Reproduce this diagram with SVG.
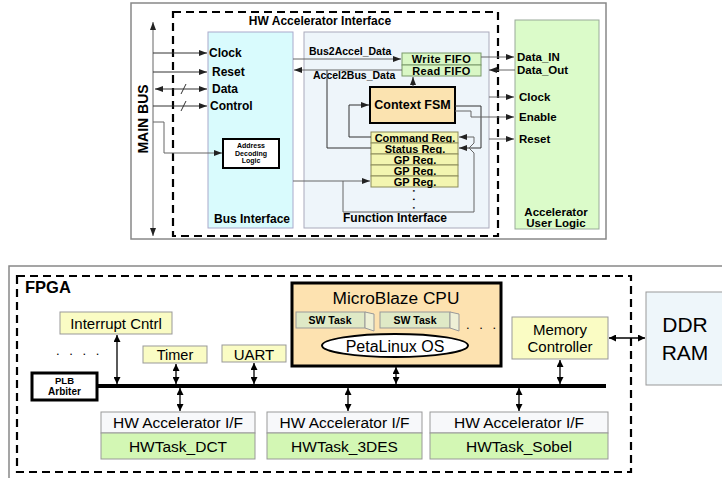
<svg xmlns="http://www.w3.org/2000/svg" width="722" height="478" viewBox="0 0 722 478">
<defs>
<marker id="a" viewBox="0 0 8 6" refX="8" refY="3" markerWidth="8" markerHeight="6" markerUnits="userSpaceOnUse" orient="auto-start-reverse"><path d="M0,0 L8,3 L0,6 z" fill="#222"/></marker>
<marker id="b" viewBox="0 0 7 7" refX="7" refY="3.5" markerWidth="7" markerHeight="7" markerUnits="userSpaceOnUse" orient="auto-start-reverse"><path d="M0,0 L7,3.5 L0,7 z" fill="#000"/></marker>
<style>
text{font-family:"Liberation Sans",Arial,sans-serif;fill:#000}
.b{font-weight:bold}
.c{text-anchor:middle}
.ln{fill:none;stroke:#333;stroke-width:1}
.lg{fill:none;stroke:#666;stroke-width:1}
.ar{marker-end:url(#a)}
.ar2{marker-start:url(#a);marker-end:url(#a)}
.bl{fill:none;stroke:#000;stroke-width:1.3;marker-start:url(#b);marker-end:url(#b)}
.frame{fill:#fff;stroke:#888;stroke-width:1.5}
.dash{fill:none;stroke:#000;stroke-width:2.2;stroke-dasharray:8 5}
.reg{fill:#f3f5b0;stroke:#8c8c5a;stroke-width:1}
.fifo{fill:#d9f7c5;stroke:#7a9a6a;stroke-width:1}
.yel{fill:#fafcc4;stroke:#999;stroke-width:1}
.hwt{fill:#f7f8fa;stroke:#999;stroke-width:1}
.hwb{fill:#d3f7b4;stroke:#999;stroke-width:1}
</style>
</defs>

<!-- ===== TOP DIAGRAM ===== -->
<rect class="frame" x="131" y="3" width="475" height="236"/>
<rect id="hwai" class="dash" x="173" y="12" width="325" height="224"/>
<text class="b c" x="320" y="25" font-size="12">HW Accelerator Interface</text>

<g id="main-bus">
<text class="b c" font-size="14" transform="translate(148,119) rotate(-90)">MAIN BUS</text>
</g>

<g id="bus-interface">
<rect x="208" y="32" width="85" height="196" fill="#d9fbfd" stroke="#aac" stroke-width="1"/>
<text class="b c" x="252" y="223" font-size="12">Bus Interface</text>
</g>

<g id="function-interface">
<rect x="304" y="32" width="185" height="196" fill="#eef5fa" stroke="#aab" stroke-width="1"/>
<text class="b c" x="395" y="222" font-size="12">Function Interface</text>
</g>

<g id="user-logic">
<rect x="515" y="20" width="84" height="209" fill="#dbfbc9" stroke="#9a9" stroke-width="1"/>
<text class="b c" x="556" y="216" font-size="11.5">Accelerator</text>
<text class="b c" x="556" y="227" font-size="11.5">User Logic</text>
</g>

<g id="addr-decoding">
<rect x="223" y="139" width="56" height="29" fill="#fff" stroke="#000" stroke-width="2"/>
<text class="b c" x="251" y="148" font-size="7">Address</text>
<text class="b c" x="251" y="155.5" font-size="7">Decoding</text>
<text class="b c" x="251" y="163" font-size="7">Logic</text>
</g>

<g id="write-fifo">
<rect class="fifo" x="402" y="53" width="79" height="12"/>
<text class="b c" x="441.5" y="62.8" font-size="11" letter-spacing="0.4">Write FIFO</text>
</g>
<g id="read-fifo">
<rect class="fifo" x="402" y="65" width="79" height="11"/>
<text class="b c" x="441.5" y="74.8" font-size="11" letter-spacing="0.4">Read FIFO</text>
</g>

<g id="context-fsm">
<rect x="370" y="87" width="85" height="36" fill="#fbe3b0" stroke="#000" stroke-width="2"/>
<text class="b c" x="412.5" y="109" font-size="12.5">Context FSM</text>
</g>

<g id="registers">
<rect class="reg" x="371" y="132" width="87" height="11"/>
<text class="b c" x="415" y="141.5" font-size="11">Command Reg.</text>
<rect class="reg" x="371" y="143" width="87" height="11"/>
<text class="b c" x="415" y="152.5" font-size="11">Status Reg.</text>
<rect class="reg" x="371" y="154" width="87" height="11"/>
<text class="b c" x="415" y="163.5" font-size="11">GP Reg.</text>
<rect class="reg" x="371" y="165" width="87" height="11"/>
<text class="b c" x="415" y="174.5" font-size="11">GP Reg.</text>
<rect class="reg" x="371" y="176" width="87" height="11"/>
<text class="b c" x="415" y="185.5" font-size="11">GP Reg.</text>
<text class="b" font-size="10" letter-spacing="1.5" transform="translate(413,189.5) rotate(90)">. . .</text>
</g>

<g id="top-labels">
<text class="b" x="209" y="57" font-size="12">Clock</text>
<text class="b" x="212" y="76" font-size="12">Reset</text>
<text class="b" x="212" y="93" font-size="12">Data</text>
<text class="b" x="210" y="110" font-size="12">Control</text>
<text class="b" x="309" y="55" font-size="10.5">Bus2Accel_Data</text>
<text class="b" x="313" y="79" font-size="10.5">Accel2Bus_Data</text>
<text class="b" x="517" y="61" font-size="11.5">Data_IN</text>
<text class="b" x="517" y="74" font-size="11.5">Data_Out</text>
<text class="b" x="519" y="101" font-size="11.5">Clock</text>
<text class="b" x="519" y="121" font-size="11.5">Enable</text>
<text class="b" x="519" y="143" font-size="11.5">Reset</text>
</g>

<g id="top-connectors">
<path class="lg ar2" d="M153,236 V22"/>
<path class="ln ar" d="M153,53 H207"/>
<path class="ln ar" d="M153,72 H207"/>
<path class="ln ar2" d="M155,89 H207"/>
<path class="ln ar" d="M153,106 H207"/>
<path class="ln" d="M181,94 L186,84 M181,111 L186,101"/>
<path class="lg ar" d="M153,122 H164 V153 H222"/>
<path class="lg ar" d="M293,59 H401"/>
<path class="lg ar" d="M402,70 H294"/>
<path class="ln" d="M371,148 H327 V70"/>
<path class="ln ar" d="M371,137 H349 V105 H369"/>
<path class="ln ar" d="M413,87 V77"/>
<path class="ln ar" d="M455,106 H481 V148 H459"/>
<path class="lg ar" d="M293,181 H370"/>
<path class="lg ar" d="M343,181 V212 H474 V153 L469,148 L474,143 V137 H459"/>
<path class="lg ar" d="M455,111 H471 V117 H514"/>
<path class="lg ar" d="M481,57 H514"/>
<path class="lg ar" d="M515,70 H489"/>
<path class="lg ar" d="M489,97 H514"/>
<path class="lg ar" d="M489,139 H514"/>
</g>

<!-- ===== BOTTOM DIAGRAM ===== -->
<rect class="frame" x="9" y="266" width="725" height="220"/>
<rect id="fpga" class="dash" x="17" y="276" width="614" height="196" stroke-width="2.5" stroke-dasharray="9 5"/>
<text class="b" x="25" y="293" font-size="16.5">FPGA</text>

<g id="interrupt-cntrl">
<rect class="yel" x="60" y="312" width="112" height="22"/>
<text class="c" x="116" y="328.5" font-size="15">Interrupt Cntrl</text>
</g>
<text x="56" y="355" font-size="13" letter-spacing="3">. . . .</text>

<g id="timer">
<rect class="yel" x="143" y="346" width="64" height="17"/>
<text class="c" x="175" y="360" font-size="14.5">Timer</text>
</g>

<g id="uart">
<rect class="yel" x="222" y="345" width="64" height="17"/>
<text class="c" x="254" y="359.5" font-size="15">UART</text>
</g>

<g id="plb-arbiter">
<rect x="32" y="373" width="65" height="27" fill="#fff" stroke="#000" stroke-width="3"/>
<text class="b c" x="64.5" y="384" font-size="9.5">PLB</text>
<text class="b c" x="64.5" y="395" font-size="10">Arbiter</text>
</g>

<g id="microblaze">
<rect x="292" y="283" width="209" height="83" fill="#fde2b0" stroke="#000" stroke-width="3"/>
<text class="c" x="396" y="304" font-size="17.3">MicroBlaze CPU</text>
<g id="sw-task-1">
<rect x="296" y="312" width="69" height="16" fill="#dfe9c6" stroke="#999" stroke-width="1"/>
<polygon points="365,312 374,314 374,331 365,328" fill="#eef0d6" stroke="#999" stroke-width="1"/>
<text class="b c" x="330" y="324" font-size="10.5">SW Task</text>
</g>
<g id="sw-task-2">
<rect x="380" y="312" width="70" height="16" fill="#dfe9c6" stroke="#999" stroke-width="1"/>
<polygon points="450,312 459,314 459,331 450,328" fill="#eef0d6" stroke="#999" stroke-width="1"/>
<text class="b c" x="415" y="324" font-size="10.5">SW Task</text>
</g>
<text x="466" y="329" font-size="13" letter-spacing="3">. . .</text>
<g id="petalinux">
<ellipse cx="395" cy="345.5" rx="73" ry="11.5" fill="#fff" stroke="#000" stroke-width="2"/>
<text class="c" x="395" y="351.5" font-size="16">PetaLinux OS</text>
</g>
</g>

<g id="memory-controller">
<rect class="yel" x="512" y="317" width="96" height="42"/>
<text class="c" x="560" y="335" font-size="15">Memory</text>
<text class="c" x="560" y="352" font-size="15">Controller</text>
</g>

<g id="ddr-ram">
<rect x="646" y="292" width="90" height="93" fill="#eef6fa" stroke="#999" stroke-width="1"/>
<text class="c" x="685" y="332" font-size="21">DDR</text>
<text class="c" x="685" y="360" font-size="21">RAM</text>
</g>

<g id="hw-dct">
<rect class="hwt" x="101" y="412" width="154" height="21"/>
<rect class="hwb" x="101" y="433" width="154" height="26"/>
<text class="c" x="178" y="428" font-size="15.5">HW Accelerator I/F</text>
<text class="c" x="178" y="452" font-size="15.5">HWTask_DCT</text>
</g>

<g id="hw-3des">
<rect class="hwt" x="267" y="412" width="155" height="21"/>
<rect class="hwb" x="267" y="433" width="155" height="26"/>
<text class="c" x="344.5" y="428" font-size="15.5">HW Accelerator I/F</text>
<text class="c" x="344.5" y="452" font-size="15.5">HWTask_3DES</text>
</g>

<g id="hw-sobel">
<rect class="hwt" x="430" y="412" width="178" height="21"/>
<rect class="hwb" x="430" y="433" width="178" height="26"/>
<text class="c" x="519" y="428" font-size="15.5">HW Accelerator I/F</text>
<text class="c" x="519" y="452" font-size="15.5">HWTask_Sobel</text>
</g>

<g id="bottom-connectors">
<line x1="97" y1="386" x2="606" y2="386" stroke="#000" stroke-width="4"/>
<path class="bl" d="M117,335 V384"/>
<path class="bl" d="M176,364 V384"/>
<path class="bl" d="M254,363 V384"/>
<path class="bl" d="M396,367 V384"/>
<path class="bl" d="M560,360 V384"/>
<path class="bl" d="M180,388 V411"/>
<path class="bl" d="M348,388 V411"/>
<path class="bl" d="M519,388 V411"/>
<path class="bl" d="M609,338 H645"/>
</g>
</svg>
